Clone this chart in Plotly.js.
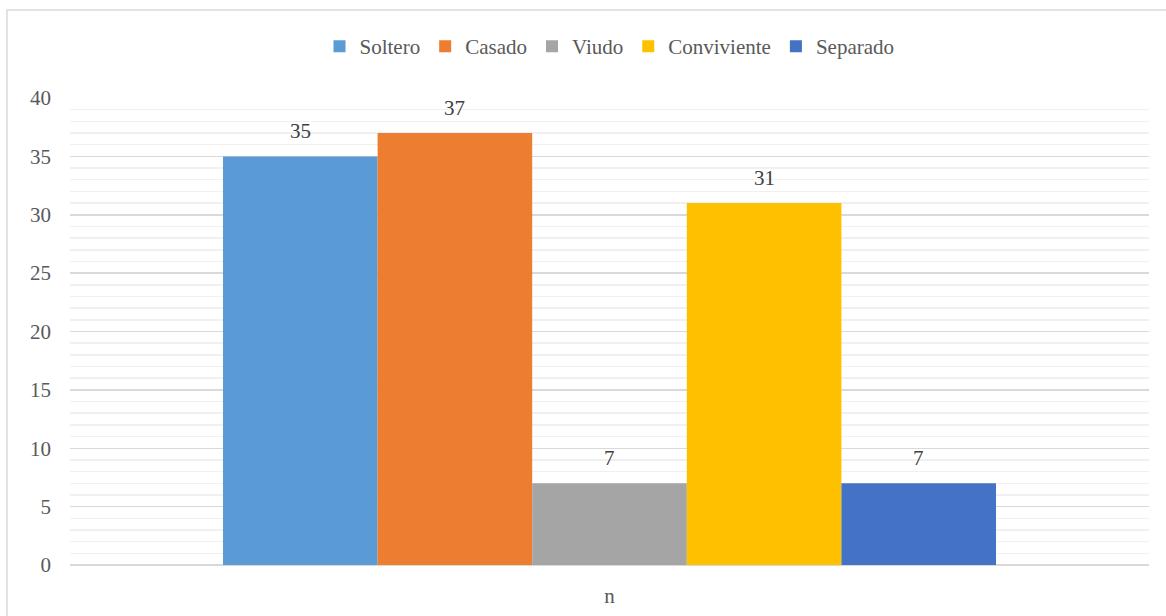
<!DOCTYPE html>
<html>
<head>
<meta charset="utf-8">
<script src="https://cdn.plot.ly/plotly-3.0.1.min.js"></script>
</head>
<body style="margin:0">
<div id="chart"></div>
<script>
const categories = ["n"];
const seriesNames = ["Soltero", "Casado", "Viudo", "Conviviente", "Separado"];
const seriesValues = [[35], [37], [7], [31], [7]];
const seriesColors = ["#5b9bd5", "#ed7d31", "#a5a5a5", "#ffc000", "#4472c4"];
const yTicks = [0, 5, 10, 15, 20, 25, 30, 35, 40];

const FAM = "Times New Roman";
const bargap = 0.2836;
const nSeries = seriesNames.length;
const barW = (1 - bargap) / nSeries;

const traces = seriesNames.map((name, i) => ({
  type: "bar",
  name: name,
  x: categories,
  y: seriesValues[i],
  marker: {color: seriesColors[i]}
}));

const annotations = [];
seriesNames.forEach((name, i) => {
  categories.forEach((c, j) => {
    annotations.push({
      xref: "x", yref: "y",
      x: j + (i - (nSeries - 1) / 2) * barW,
      y: seriesValues[i][j],
      text: String(seriesValues[i][j]),
      showarrow: false,
      xanchor: "center", yanchor: "bottom",
      yshift: 11,
      font: {family: FAM, size: 21, color: "#404040"}
    });
  });
});

const layout = {
  width: 1166, height: 616,
  margin: {l: 70, r: 17, t: 98, b: 51},
  font: {family: FAM},
  barmode: "group",
  bargap: bargap,
  bargroupgap: 0,
  showlegend: true,
  annotations: annotations,
  shapes: [{type: "rect", xref: "paper", yref: "paper", x0: -0.0584, x1: 1.05, y0: -0.2, y1: 1.1884,
            line: {color: "#d9d9d9", width: 1.5}, fillcolor: "rgba(0,0,0,0)", layer: "below"}],
  legend: {orientation: "h", x: 0.5, xanchor: "center", y: 1.11, yanchor: "middle",
           font: {family: FAM, size: 21, color: "#595959"}, itemwidth: 30},
  xaxis: {type: "category", showgrid: false, showline: false, zeroline: false, ticks: "",
          ticklabelstandoff: 16, tickfont: {family: FAM, size: 21, color: "#595959"}},
  yaxis: {range: [0, 40], tickvals: yTicks, ticktext: yTicks.map(String), showgrid: true,
          gridcolor: "#d9d9d9", gridwidth: 1.5, zeroline: true, zerolinecolor: "#d9d9d9", zerolinewidth: 1.5,
          showline: false, ticks: "", ticklabelstandoff: 18,
          tickfont: {family: FAM, size: 21, color: "#595959"},
          minor: {dtick: 1, showgrid: true, gridcolor: "#f0f0f0", gridwidth: 1.5, ticks: ""}}
};

Plotly.newPlot("chart", traces, layout, {staticPlot: true});
</script>
</body>
</html>
